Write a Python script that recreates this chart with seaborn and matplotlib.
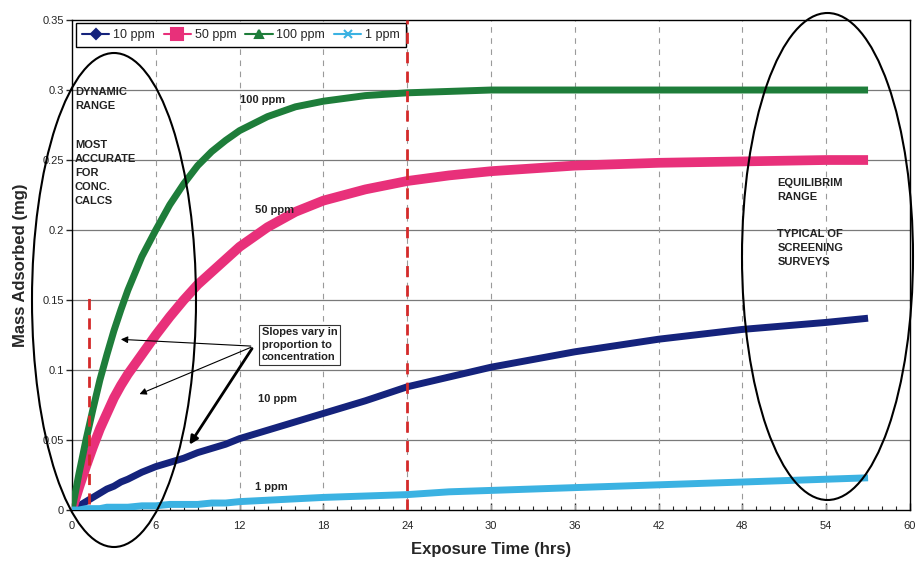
import matplotlib
matplotlib.use("Agg")
import matplotlib.pyplot as plt
import seaborn as sns
import pandas as pd
from matplotlib.lines import Line2D
from matplotlib.patches import Ellipse
from matplotlib.ticker import MultipleLocator

## Data

hours = [0, 0.5, 1, 1.5, 2, 2.5, 3, 3.5, 4, 5, 6, 7, 8, 9, 10, 11, 12, 14, 16,
         18, 21, 24, 27, 30, 36, 42, 48, 54, 57]

ppm_10 = [0, .003, .006, .009, .012, .015, .017, .020, .022, .027, .031, .034,
          .037, .041, .044, .047, .051, .057, .063, .069, .078, .088, .095,
          .102, .113, .122, .129, .134, .137]
ppm_50 = [0, .016, .031, .045, .058, .069, .080, .089, .097, .111, .125, .138,
          .150, .161, .170, .179, .188, .202, .213, .221, .229, .235, .239,
          .242, .246, .248, .249, .250, .250]
ppm_100 = [0, .026, .050, .072, .093, .111, .128, .143, .157, .181, .200, .218,
           .233, .246, .256, .264, .271, .281, .288, .292, .296, .298, .299,
           .300, .300, .300, .300, .300, .300]
ppm_1 = [0, 0, .001, .001, .001, .002, .002, .002, .002, .003, .003, .004,
         .004, .004, .005, .005, .006, .007, .008, .009, .010, .011, .013,
         .014, .016, .018, .020, .022, .023]

series_names = ["10 ppm", "50 ppm", "100 ppm", "1 ppm"]
series_values = [ppm_10, ppm_50, ppm_100, ppm_1]
series_colors = ["#15237c", "#e8307a", "#1e7d3a", "#3bb2e2"]
series_markers = ["D", "s", "^", "x"]

x_ticks = [0, 6, 12, 18, 24, 30, 36, 42, 48, 54, 60]
y_ticks = [0, 0.05, 0.1, 0.15, 0.2, 0.25, 0.3, 0.35]
y_tick_labels = ["0", "0.05", "0.1", "0.15", "0.2", "0.25", "0.3", "0.35"]

df = pd.DataFrame({"hours": hours})
for name, vals in zip(series_names, series_values):
    df[name] = vals
long_df = df.melt(id_vars="hours", var_name="series", value_name="mass")

## Style

sns.set_style("white")
plt.rcParams["font.family"] = ["Liberation Sans", "DejaVu Sans"]

fig = plt.figure(figsize=(9.16, 5.67), dpi=100)
ax = fig.add_axes([0.0786, 0.1005, 0.9148, 0.8642])

# curves
widths = {"10 ppm": 5, "50 ppm": 7, "100 ppm": 5, "1 ppm": 5}
for name, color in zip(series_names, series_colors):
    sub = long_df[long_df["series"] == name]
    sns.lineplot(data=sub, x="hours", y="mass", color=color,
                 lw=widths[name], ax=ax, legend=False, zorder=3,
                 solid_capstyle="butt", solid_joinstyle="round")

# red dashed markers
ax.axvline(24, color="#d42a2a", lw=2, dashes=(4, 3), zorder=6)
ax.vlines(1.25, 0.004, 0.152, color="#d42a2a", lw=2, linestyles=(0, (4, 3)), zorder=6)

## Axes

ax.set_xlim(0, 60)
ax.set_ylim(0, 0.35)
ax.set_xticks(x_ticks)
ax.set_yticks(y_ticks)
ax.set_yticklabels(y_tick_labels)
ax.xaxis.set_minor_locator(MultipleLocator(1))
ax.tick_params(axis="x", which="major", direction="in", length=5, width=1,
               labelsize=8, pad=8, bottom=True)
ax.tick_params(axis="x", which="minor", direction="in", length=3, width=0.8,
               bottom=True)
ax.tick_params(axis="y", which="major", direction="out", length=4, width=1,
               labelsize=8, pad=2, left=True)

for y in y_ticks[1:-1]:
    ax.axhline(y, color="#7a7a7a", lw=0.9, zorder=1)
for x in x_ticks[1:-1]:
    ax.axvline(x, color="#9a9a9a", lw=0.8, dashes=(5, 5), zorder=1)

for sp in ax.spines.values():
    sp.set_color("black")
    sp.set_linewidth(1)

ax.set_xlabel("Exposure Time (hrs)", fontsize=12, fontweight="bold", labelpad=8)
ax.set_ylabel("Mass Adsorbed (mg)", fontsize=12, fontweight="bold", labelpad=10)

## Legend

handles = [
    Line2D([], [], color=c, marker=m, lw=1.5,
           markersize=(8 if m == "s" else 5.5), mew=1.5)
    for c, m in zip(series_colors, series_markers)
]
leg = ax.legend(handles, series_names, loc="upper left", ncol=4,
                bbox_to_anchor=(0.002, 0.998), borderaxespad=0.2,
                fontsize=9, handlelength=2.2, handletextpad=0.3,
                columnspacing=0.7, fancybox=False, framealpha=1,
                edgecolor="black", borderpad=0.45)
leg.get_frame().set_linewidth(1)
leg.set_zorder(5)

## Annotations

bold8 = dict(fontsize=8, fontweight="bold", color="#222222")
ax.text(0.2, 0.302, "DYNAMIC\nRANGE", va="top", linespacing=1.5, **bold8)
ax.text(0.2, 0.264, "MOST\nACCURATE\nFOR\nCONC.\nCALCS", va="top", linespacing=1.5, **bold8)
ax.text(50.5, 0.237, "EQUILIBRIM\nRANGE", va="top", linespacing=1.5, **bold8)
ax.text(50.5, 0.201, "TYPICAL OF\nSCREENING\nSURVEYS", va="top", linespacing=1.5, **bold8)

ax.text(12.0, 0.293, "100 ppm", va="center", **bold8)
ax.text(13.1, 0.214, "50 ppm", va="center", **bold8)
ax.text(13.3, 0.079, "10 ppm", va="center", **bold8)
ax.text(13.1, 0.0165, "1 ppm", va="center", **bold8)

ax.text(13.6, 0.118, "Slopes vary in\nproportion to\nconcentration", va="center",
        linespacing=1.3, zorder=7,
        bbox=dict(boxstyle="square,pad=0.25", fc="white", ec="#333333", lw=0.8),
        **bold8)

arrow_start = (13.0, 0.117)
ax.annotate("", xy=(3.3, 0.122), xytext=arrow_start,
            arrowprops=dict(arrowstyle="-|>", color="black", lw=0.8, mutation_scale=10),
            zorder=7)
ax.annotate("", xy=(4.65, 0.082), xytext=arrow_start,
            arrowprops=dict(arrowstyle="-|>", color="black", lw=0.8, mutation_scale=10),
            zorder=7)
ax.annotate("", xy=(8.3, 0.045), xytext=arrow_start,
            arrowprops=dict(arrowstyle="-|>", color="black", lw=2, mutation_scale=12),
            zorder=7)

# hand-drawn range ellipses (figure inches)
for cx, cy, w, h in [(1.14, 2.67, 1.64, 4.94), (8.275, 3.105, 1.71, 4.87)]:
    fig.add_artist(Ellipse((cx, cy), w, h, transform=fig.dpi_scale_trans,
                           fill=False, ec="black", lw=1.5, zorder=10))

plt.savefig("out.png", dpi=100)
plt.close()
